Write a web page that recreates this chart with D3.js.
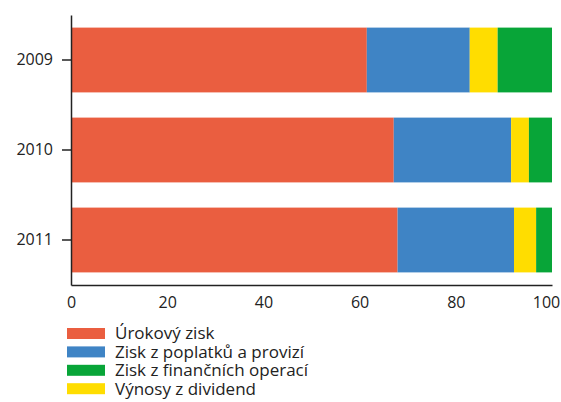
<!DOCTYPE html>
<html>
<head>
<meta charset="utf-8">
<script src="https://cdnjs.cloudflare.com/ajax/libs/d3/7.8.5/d3.min.js"></script>
<style>
  body { margin: 0; background: #fff; }
  svg { display: block; font-family: "Open Sans", sans-serif; }
</style>
</head>
<body>
<script>
'use strict';

var width = 561,
    height = 402;

// data (share in %)
var years = ["2009", "2010", "2011"];
var urokovyZisk = [61.5, 67.1, 67.9];
var poplatky = [21.4, 24.4, 24.2];
var dividendy = [5.8, 3.7, 4.6];
var financni = [11.3, 4.8, 3.3];
var xTicks = [0, 20, 40, 60, 80, 100];

// stack order on bars: orange, blue, yellow, green
var seriesNames = ["Úrokový zisk", "Zisk z poplatků a provizí", "Výnosy z dividend", "Zisk z finančních operací"];
var seriesValues = [urokovyZisk, poplatky, dividendy, financni];
var colors = ["#EA5E40", "#3F84C5", "#FFDD00", "#08A538"];
// legend order differs from stack order
var legendOrder = [0, 1, 3, 2];

var rows = years.map(function(y, i) {
  var r = {year: y};
  seriesNames.forEach(function(s, j) { r[s] = seriesValues[j][i]; });
  return r;
});

var stacked = d3.stack().keys(seriesNames)(rows);

var x = d3.scaleLinear()
  .domain([0, 100])
  .range([71, 552]);

var y = d3.scaleBand()
  .domain(years)
  .range([15, 285])
  .paddingInner(0.28)
  .paddingOuter(0.14);

var svg = d3.select("body").append("svg")
  .attr("width", width)
  .attr("height", height);

// bars
svg.append("g")
  .selectAll("g")
  .data(stacked)
  .enter().append("g")
  .attr("fill", function(d, i) { return colors[i]; })
  .selectAll("rect")
  .data(function(d) { return d; })
  .enter().append("rect")
  .attr("x", function(d) { return x(d[0]); })
  .attr("width", function(d) { return x(d[1]) - x(d[0]); })
  .attr("y", function(d) { return y(d.data.year); })
  .attr("height", y.bandwidth());

// left axis
var yAxis = svg.append("g")
  .attr("transform", "translate(71,0)")
  .call(d3.axisLeft(y).tickSize(9).tickPadding(9).tickSizeOuter(0));
yAxis.select(".domain").attr("stroke", "#222").attr("stroke-width", 1.5);
yAxis.selectAll(".tick line").attr("stroke", "#222").attr("stroke-width", 1.5);
yAxis.selectAll("text").attr("font-size", 16).attr("fill", "#222")
  .attr("font-family", "Open Sans");

// bottom axis
var xAxis = svg.append("g")
  .attr("transform", "translate(0,285)")
  .call(d3.axisBottom(x).tickValues(xTicks).tickSize(0).tickPadding(12).tickSizeOuter(0));
xAxis.select(".domain").attr("stroke", "#222").attr("stroke-width", 1.5);
xAxis.selectAll("text").attr("font-size", 16).attr("fill", "#222")
  .attr("font-family", "Open Sans");
// last label pulled in so it is not cut at the edge
xAxis.selectAll(".tick text")
  .filter(function(d) { return d === 100; })
  .attr("dx", -6);

// legend
var legend = svg.append("g")
  .selectAll("g")
  .data(legendOrder)
  .enter().append("g")
  .attr("transform", function(d, i) { return "translate(67," + (328 + i * 18.4) + ")"; });

legend.append("rect")
  .attr("width", 38)
  .attr("height", 11)
  .attr("fill", function(d) { return colors[d]; });

legend.append("text")
  .attr("x", 48)
  .attr("y", 5.5)
  .attr("dy", "0.35em")
  .attr("font-size", 17)
  .attr("fill", "#222")
  .text(function(d) { return seriesNames[d]; });
</script>
</body>
</html>
